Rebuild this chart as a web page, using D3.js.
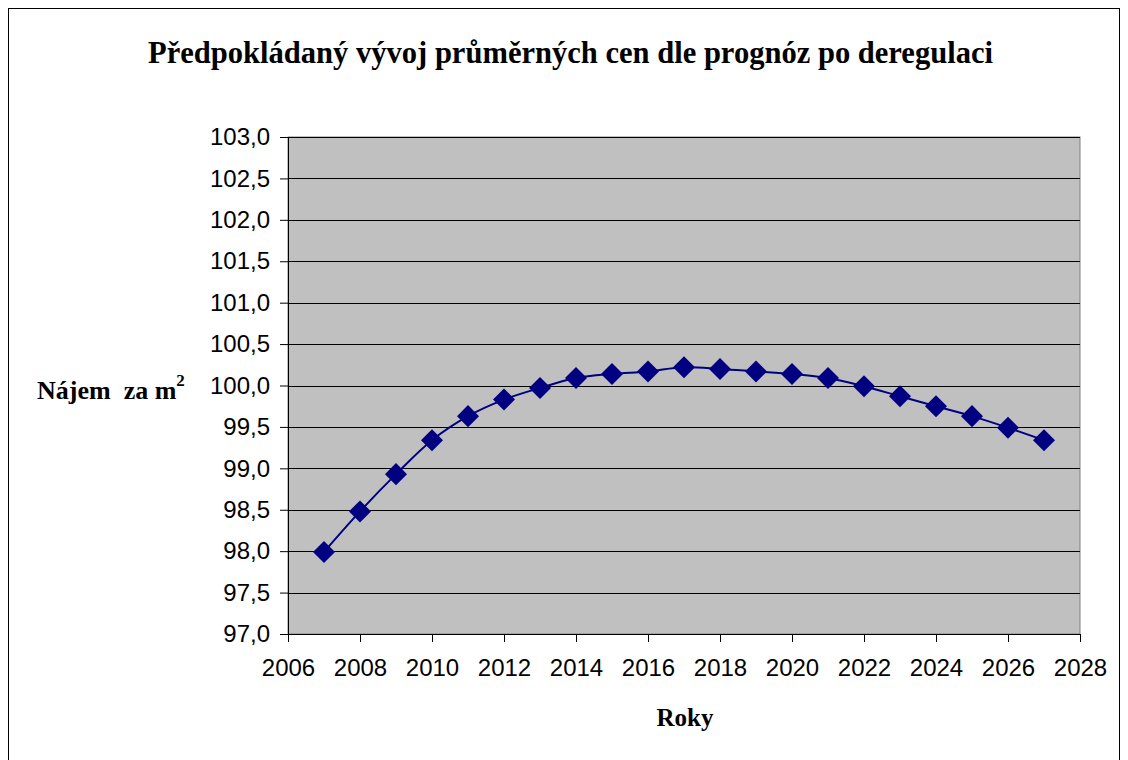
<!DOCTYPE html>
<html>
<head>
<meta charset="utf-8">
<script src="https://cdn.jsdelivr.net/npm/d3@7"></script>
<style>
  body { margin: 0; background: #fff; }
</style>
</head>
<body>
<div id="chart"></div>
<script>
var years = [2007, 2008, 2009, 2010, 2011, 2012, 2013, 2014, 2015, 2016, 2017,
             2018, 2019, 2020, 2021, 2022, 2023, 2024, 2025, 2026, 2027];
var rents = [97.99, 98.48, 98.93, 99.34, 99.63, 99.83, 99.97, 100.09, 100.14, 100.17, 100.22,
             100.20, 100.17, 100.14, 100.09, 99.99, 99.87, 99.75, 99.63, 99.49, 99.34];
var xTicks = d3.range(2006, 2029, 2);
var yTicks = d3.range(97, 103.01, 0.5);

var W = 1128, H = 760;
var margin = {top: 137, right: 48, bottom: 126, left: 288},
    width = W - margin.left - margin.right,
    height = H - margin.top - margin.bottom;

var serif = "'Liberation Serif', 'Times New Roman', serif";
var sans = "'Liberation Sans', Arial, sans-serif";

var svg = d3.select("#chart").append("svg")
    .attr("width", W)
    .attr("height", H);

// outer frame
svg.append("rect")
    .attr("x", 8.5).attr("y", 8.5)
    .attr("width", W - 17).attr("height", H)
    .attr("fill", "#fff").attr("stroke", "#000").attr("stroke-width", 1);

svg.append("text")
    .attr("x", 148).attr("y", 63)
    .attr("textLength", 845)
    .attr("lengthAdjust", "spacingAndGlyphs")
    .style("font-family", serif)
    .style("font-weight", "bold")
    .style("font-size", "32px")
    .text("Předpokládaný vývoj průměrných cen dle prognóz po deregulaci");

var g = svg.append("g")
    .attr("transform", "translate(" + margin.left + "," + margin.top + ")");

var x = d3.scaleLinear().domain([2006, 2028]).range([0, width]);
var y = d3.scaleLinear().domain([97, 103]).range([height, 0]);

g.append("rect")
    .attr("width", width).attr("height", height)
    .attr("fill", "#c0c0c0")
    .attr("stroke", "#808080");

// gridlines
g.selectAll(".grid")
    .data(yTicks)
    .enter().append("line")
    .attr("x1", 0).attr("x2", width)
    .attr("y1", function(d) { return Math.round(y(d)) + 0.5; })
    .attr("y2", function(d) { return Math.round(y(d)) + 0.5; })
    .attr("stroke", "#000").attr("stroke-width", 1);

var yAxis = g.append("g")
    .call(d3.axisLeft(y).tickValues(yTicks).tickSize(8).tickPadding(10)
        .tickFormat(function(d) { return d3.format(".1f")(d).replace(".", ","); }));
var xAxis = g.append("g")
    .attr("transform", "translate(0," + height + ")")
    .call(d3.axisBottom(x).tickValues(xTicks).tickSize(8).tickPadding(14)
        .tickFormat(d3.format("d")));

[yAxis, xAxis].forEach(function(a) {
    a.selectAll("text")
        .style("font-family", sans)
        .style("font-size", "24px")
        .attr("fill", "#000");
    a.selectAll("line").attr("stroke", "#000");
    a.select(".domain").attr("stroke", "#000");
});
xAxis.selectAll("text").attr("dy", "0.85em");

var line = d3.line()
    .x(function(d, i) { return x(years[i]); })
    .y(function(d) { return y(d); })
    .curve(d3.curveCatmullRom.alpha(0.5));

g.append("path")
    .datum(rents)
    .attr("d", line)
    .attr("fill", "none")
    .attr("stroke", "#000080")
    .attr("stroke-width", 2);

g.selectAll(".pt")
    .data(rents)
    .enter().append("path")
    .attr("d", d3.symbol().type(d3.symbolDiamond2).size(310))
    .attr("transform", function(d, i) { return "translate(" + x(years[i]) + "," + y(d) + ")"; })
    .attr("fill", "#000080");

svg.append("text")
    .attr("x", 685).attr("y", 726)
    .attr("text-anchor", "middle")
    .style("font-family", serif)
    .style("font-weight", "bold")
    .style("font-size", "25px")
    .text("Roky");

var yl = svg.append("text")
    .attr("x", 37).attr("y", 399)
    .style("font-family", serif)
    .style("font-weight", "bold")
    .style("font-size", "26px")
    .attr("xml:space", "preserve")
    .style("white-space", "pre")
    .text("Nájem  za m");
yl.append("tspan")
    .attr("dy", -13)
    .style("font-size", "17px")
    .text("2");
</script>
</body>
</html>
